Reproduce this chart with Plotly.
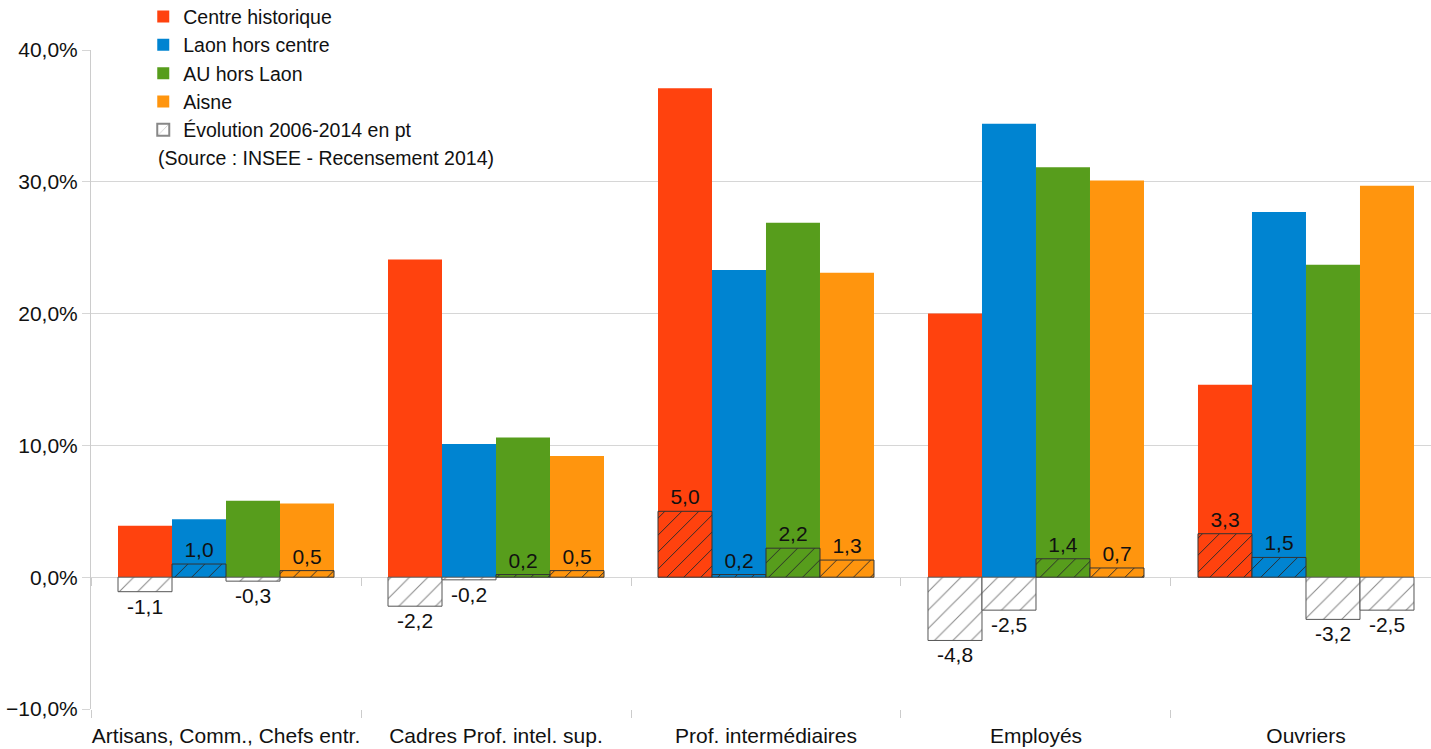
import plotly.graph_objects as go

categories = ["Artisans, Comm., Chefs entr.", "Cadres Prof. intel. sup.", "Prof. intermédiaires", "Employés", "Ouvriers"]
series_names = ["Centre historique", "Laon hors centre", "AU hors Laon", "Aisne"]
series_colors = ["#ff420e", "#0084d1", "#579d1c", "#ff950e"]

share_centre = [3.9, 24.1, 37.1, 20.0, 14.6]
share_laon = [4.4, 10.1, 23.3, 34.4, 27.7]
share_au = [5.8, 10.6, 26.9, 31.1, 23.7]
share_aisne = [5.6, 9.2, 23.1, 30.1, 29.7]

evol_centre = [-1.1, -2.2, 5.0, -4.8, 3.3]
evol_laon = [1.0, -0.2, 0.2, -2.5, 1.5]
evol_au = [-0.3, 0.2, 2.2, 1.4, -3.2]
evol_aisne = [0.5, 0.5, 1.3, 0.7, -2.5]

shares = [share_centre, share_laon, share_au, share_aisne]
evols = [evol_centre, evol_laon, evol_au, evol_aisne]

FONT = "Liberation Sans"
FS = 21
fig = go.Figure()

bw = 0.2
for i, (name, col, vals) in enumerate(zip(series_names, series_colors, shares)):
    fig.add_trace(go.Bar(
        x=categories, y=vals, name=name,
        marker=dict(color=col, line=dict(width=0)),
        width=bw, offset=-0.4 + i * bw,
        hoverinfo="skip",
    ))

for i, (name, col, vals) in enumerate(zip(series_names, series_colors, evols)):
    pos = [v if v > 0 else None for v in vals]
    neg = [v if v <= 0 else None for v in vals]
    for part, bg, fg, lc, sz in ((pos, col, "#2a2a2a", "#333333", 12),
                                 (neg, "white", "#8a8a8a", "#555555", 13)):
        fig.add_trace(go.Bar(
            x=categories, y=part, showlegend=False,
            marker=dict(
                color=bg,
                line=dict(color=lc, width=1),
                pattern=dict(shape="/", size=sz, solidity=0.08, fgcolor=fg, bgcolor=bg,
                             fillmode="replace"),
            ),
            width=bw, offset=-0.4 + i * bw,
            texttemplate="%{y:.1f}", textposition="outside",
            textfont=dict(family=FONT, size=FS, color="#111111"),
            constraintext="none", cliponaxis=False,
            hoverinfo="skip",
        ))

fig.add_trace(go.Bar(
    x=[None], y=[None], name="Évolution 2006-2014 en pt",
    marker=dict(color="white", line=dict(color="#888888", width=1),
                pattern=dict(shape="/", size=14, solidity=0.08, fgcolor="#777777", bgcolor="white")),
))

fig.update_layout(
    barmode="overlay",
    separators=", ",
    width=1431, height=749,
    margin=dict(l=91, r=0, t=50, b=40, autoexpand=False),
    plot_bgcolor="white", paper_bgcolor="white",
    font=dict(family=FONT, size=FS, color="#111111"),
    showlegend=True,
    legend=dict(x=0.039, xanchor="left", y=1.08, yanchor="top",
                font=dict(family=FONT, size=19.5, color="#111111"),
                bgcolor="rgba(0,0,0,0)", tracegroupgap=0, itemsizing="constant"),
    xaxis=dict(range=[-0.5, 4.463], showgrid=False, showline=False, automargin=False,
               tickangle=0,
               ticks="outside", tickson="boundaries", ticklen=8, tickcolor="#cccccc",
               ticklabelstandoff=12,
               tickfont=dict(family=FONT, size=FS, color="#111111"), zeroline=False),
    xaxis2=dict(overlaying="x", anchor="free", position=0.2, matches="x", automargin=False,
                showgrid=False, showline=False, showticklabels=False,
                ticks="outside", tickson="boundaries", ticklen=8, tickcolor="#cccccc"),
    yaxis=dict(range=[-10, 40], dtick=10, tick0=0, ticksuffix="%", tickformat=".1f",
               automargin=False,
               showgrid=True, gridcolor="#d6d6d6", gridwidth=1,
               zeroline=True, zerolinecolor="#d6d6d6", zerolinewidth=1,
               showline=True, linecolor="#cccccc", linewidth=1,
               ticks="outside", ticklen=8, tickcolor="#d6d6d6",
               tickfont=dict(family=FONT, size=FS, color="#111111")),
    annotations=[dict(text="(Source : INSEE - Recensement 2014)", xref="paper", yref="paper",
                      x=(156 - 91) / 1340, y=1 + (50 - 158) / 659, xanchor="left", yanchor="middle",
                      showarrow=False, font=dict(family=FONT, size=19.5, color="#111111"))],
)

fig.add_trace(go.Bar(x=categories, y=[None] * 5, xaxis="x2", showlegend=False, hoverinfo="skip"))

fig.write_html("out.html")
